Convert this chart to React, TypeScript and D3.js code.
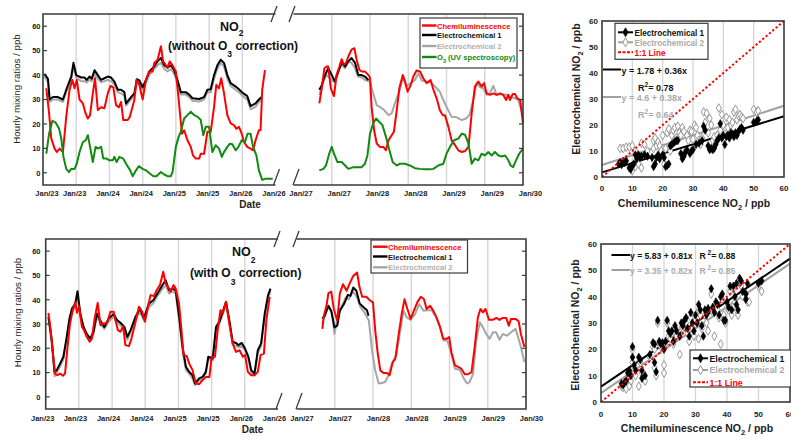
import React from "react";
import * as d3 from "d3";

type P = [number, number];

const FONT = "'Liberation Sans', Arial, Helvetica, sans-serif";

// ---------- time axis (hours from Jan 23 00:00; right block starts Jan 27 = hour 96) ----------
const leftTickHours = [0, 12, 24, 36, 48, 60, 72, 84];
const leftTickLabels = ["Jan/23", "Jan/23", "Jan/24", "Jan/24", "Jan/25", "Jan/25", "Jan/26", "Jan/26"];
const rightTickHours = [96, 108, 120, 132, 144, 156, 168];
const rightTickLabels = ["Jan/27", "Jan/27", "Jan/28", "Jan/28", "Jan/29", "Jan/29", "Jan/30"];
const yTicks = [0, 10, 20, 30, 40, 50, 60];
const scatterTicks = [0, 10, 20, 30, 40, 50, 60];

// ---------- top panel: without O3 correction ----------
const topChemiL: P[] = [[1.2,34.6],[2.2,24.3],[3,14],[4.2,9.9],[5,8.5],[6,9.9],[7.2,8.5],[8.4,23],[9.6,34],[10.6,38],[11.4,34.6],[12.2,38],[13.2,30],[14.4,28.4],[15.4,24.3],[16.2,22.2],[17,23.6],[18,32.5],[18.8,38.7],[19.8,25.7],[21,26.8],[22.2,26.4],[23.4,32.5],[24.4,35.6],[25.4,35],[26.4,27.7],[27.4,26.8],[28.2,29],[29,21.6],[30.6,21.6],[31.4,23],[33,29.8],[33.8,38],[34.8,36],[36,30],[37.2,38],[38.4,41.5],[39.6,41.5],[40.2,45],[41.4,46.3],[42.6,51.8],[43.4,45.6],[44.4,44],[45,43],[45.8,45.6],[46.8,44],[48,41.5],[48.8,32.5],[49.6,23],[50.2,16],[51,17.4],[52.2,13.3],[53.4,10.6],[54.2,7.1],[55.2,5.8],[56.4,5.8],[57,7.8],[58.2,7.8],[59.4,16.8],[60.6,16.8],[61.8,27],[62.6,36],[63.6,34.6],[64.4,38.7],[65.4,32.5],[66.6,23.6],[67.8,20.2],[69,19.5],[69.9,18],[70.8,18.8],[71.8,16],[72.6,12.6],[73.8,10.6],[75,9.9],[75.9,9.2],[76.8,13.3],[78,17.4],[78.6,17.4],[79.2,34],[80.2,42]];
const topE1L: P[] = [[0.5,40.5],[1.8,38.5],[2.4,30],[3.6,31],[5.4,31],[7.2,30],[8.4,34],[10.2,39.4],[11,45],[12,40],[13.8,39],[15,39],[15.8,38],[16.8,39.4],[17.6,38.5],[18.6,42],[19.8,40],[21,38],[22.2,38.7],[23.4,39.4],[24.6,39],[25.8,37.3],[27,34],[28.2,34],[29.4,33],[30,28.4],[31.8,31],[33,32.5],[33.9,38.3],[34.8,37.8],[36,35],[37.2,38],[38.4,41.5],[40.2,43.5],[41.4,45.6],[42.6,47],[43.8,44],[45,43],[46.2,44],[47.4,42],[48.6,38],[49.8,33],[51.6,33],[52.8,32],[54,30.5],[56.4,30.2],[58.2,31],[59.4,34],[60.6,34.2],[61.8,40],[63,44],[64.2,46.3],[65.4,45],[66.6,40],[67.8,36.7],[69.6,35.3],[70.8,34.2],[72,32.8],[73.8,31.4],[75,27.3],[76.8,28.4],[78,30],[79,31]];
const topE2L: P[] = [[0.5,39.5],[1.8,37],[2.4,29],[3.6,30],[5.4,30],[7.2,29],[8.4,33],[10.2,38],[11,43.5],[12,39],[13.8,37.5],[15,37.5],[15.8,37],[16.8,38],[17.6,37.5],[18.6,40.5],[19.8,38.5],[21,37],[22.2,37.5],[23.4,38],[24.6,37.5],[25.8,36],[27,33],[28.2,32.5],[29.4,31.5],[30,27.5],[31.8,30],[33,31.5],[33.9,37],[34.8,36.5],[36,34],[37.2,37],[38.4,40],[40.2,42.5],[41.4,44],[42.6,45],[43.8,42.5],[45,41.5],[46.2,42.5],[47.4,40.5],[48.6,36.5],[49.8,32],[51.6,32],[52.8,31],[54,29.5],[56.4,29.2],[58.2,30],[59.4,33],[60.6,33],[61.8,38.5],[63,42.5],[64.2,45],[65.4,43.5],[66.6,38.5],[67.8,35.5],[69.6,34],[70.8,33],[72,31.5],[73.8,30],[75,26],[76.8,27],[78,29],[79,30]];
const topO3L: P[] = [[1.2,7.8],[2.2,16],[3.4,21.3],[4.6,20.5],[5.8,18.1],[6.6,14],[7.4,6.5],[8.4,1.6],[9.4,0.3],[10.2,1.6],[11.4,1.6],[12.2,3.7],[13.2,8.5],[14.4,12.6],[15.4,13.3],[16.2,15.4],[17,10.6],[18,4.4],[19,10.6],[19.8,9.9],[21,10.6],[21.8,5.8],[23,5.8],[24,5.1],[25.2,5.1],[25.8,6.5],[26.6,4.4],[27.6,6.5],[29,5.8],[30,3.7],[31.5,1],[32.4,-1.4],[33.6,1],[34.6,2.7],[36,1.6],[37.2,1],[38.7,-0.4],[39.9,-1.4],[41,-1.4],[42.6,0.3],[43.8,-0.7],[45,-1.4],[46.2,-1.4],[46.8,0.3],[48,10.6],[49,14.7],[49.8,16.8],[51,22.2],[52.2,23.6],[53.4,25],[54.6,23.6],[55.8,23],[57,21.6],[57.9,15.4],[58.8,18.8],[60,18.8],[61.2,8.5],[62.4,11.3],[63.6,9.9],[64.6,6.5],[65.4,8.5],[66.6,10.6],[67.5,11.9],[68.4,11.7],[69.6,9.2],[70.6,10.6],[71.8,13.3],[73,12.6],[73.9,16],[75,16],[75.9,10.6],[77.1,7.1],[78,1],[79.2,-2.9],[80.4,-2.4],[83,-2.4]];
const topChemiR: P[] = [[104.1,28.4],[104.8,34],[105.7,42.8],[106.4,43.5],[106.9,43.5],[107.7,34.6],[108.7,31.4],[109.5,40],[110.4,43.5],[111.1,46.5],[111.8,44.2],[112.5,45],[113.2,47.6],[114.2,50.4],[115.1,51],[115.8,46.3],[116.7,42],[117.4,41.5],[118.4,41.5],[119.5,40],[120,39],[120.5,27],[121.3,17.4],[122.1,12],[123.1,10.6],[124.2,10.6],[125,9.2],[125.8,13.3],[126.8,15.4],[127.5,16.8],[128.4,25.7],[129.2,34.6],[130.3,40],[131,37.3],[131.8,33.2],[132.8,36],[133.6,39.4],[134.6,41.9],[135.7,41.5],[136.7,38.7],[137.8,36.7],[139,38],[139.9,34],[140.9,30.5],[141.9,25.7],[142.8,23.6],[143.5,23.6],[144.6,18.8],[145.6,13.3],[146.7,11.3],[147.7,9.2],[148.8,8.5],[149.8,8.9],[150.9,10.6],[151.9,24.3],[152.9,35.3],[154,37.3],[155,35.3],[155.8,36.7],[156.6,32.5],[157.6,31.9],[158.7,32.5],[159.7,31.9],[160.8,32.5],[161.8,31.9],[162.7,29.8],[163.4,31.9],[163.9,29.8],[164.8,32.3],[165.5,32.3],[166.2,30.5],[167.1,29.8],[168,20.2]];
const topE1R: P[] = [[104.1,34],[104.8,35.6],[105.7,39.4],[106.9,42.8],[108,40],[109,37.3],[110.1,41.5],[111.1,45.2],[112.2,43.5],[113.2,45.6],[114.2,47],[115.3,45],[116.3,40],[117.4,40],[118.4,39.4],[119.5,38]];
const topE2R: P[] = [[104.1,31.9],[105.4,37.3],[106.4,40],[107.5,38.7],[108.7,37.3],[110.1,42],[111.1,44.2],[112.2,42.8],[113.2,45.6],[114.2,45],[115.3,42.8],[116.3,39.4],[117.4,39],[118.4,38],[120,37.3],[121,32.5],[122.1,27.7],[123.1,27],[124.4,25.7],[125.8,23.6],[126.8,24.3],[127.8,28.4],[129.2,33.2],[130.3,38.7],[131.5,35.6],[132.8,36.7],[134.1,38],[135.2,40.8],[136.2,37.8],[137.8,37.3],[138.8,37.3],[140.4,35.3],[141.9,33.2],[143,29.8],[144,27],[145.6,22.9],[147.2,22.7],[148.8,21.6],[150.1,22.2],[151.2,23.6],[152.4,29.8],[153.5,36.9],[154.5,35],[155.5,34.6],[156.6,31.9],[157.6,32.5],[158.7,35.6],[159.7,31.9],[161.3,32.1],[162.9,31.9],[164.5,30.9],[165.5,30.5],[166.5,29.8],[168,23.6]];
const topO3R: P[] = [[104.1,1],[105.4,1.6],[106.2,3],[107.2,7.8],[108,10.6],[108.7,7.8],[109.8,4.4],[111.1,4.4],[112.2,3],[113.2,1.6],[114.8,2.3],[116.3,2.3],[117.4,2.3],[118.4,3.7],[119.2,7.1],[120,16],[121,20.2],[121.9,22.2],[122.9,20.9],[123.9,19.5],[125,14.7],[126.1,9.2],[127.1,4.4],[128.4,3],[129.4,3.7],[131,3.7],[132.5,3],[134.1,1.9],[135.7,1.6],[137.3,1.4],[138.8,1.4],[139.9,1.6],[141.4,3],[143,3.7],[144,7.8],[145.1,10.6],[146.4,13.3],[147.7,14],[148.8,16],[149.8,15.6],[150.9,11.9],[151.9,3.7],[152.9,5.8],[154,5.1],[155,7.8],[156.1,7.1],[157.1,8.5],[158.2,7.1],[159.2,8.5],[160.3,7.1],[161.3,6.7],[162.4,7.1],[163.4,5.1],[164.1,3],[164.9,2.3],[165.8,5.1],[166.8,7.8],[168,9.9]];

// ---------- bottom panel: with O3 correction ----------
const botChemiL: P[] = [[1,34.6],[1.8,27.5],[2.5,19.2],[3.4,9.6],[4.2,8.9],[5.2,9.6],[6.2,8.7],[7,9.6],[7.9,20.6],[8.8,30.2],[9.8,35.7],[10.7,39.1],[11.3,34.6],[12.1,37.3],[13.1,28.8],[13.9,27.5],[14.9,24.7],[15.9,22.7],[16.7,24],[17.7,32.3],[18.8,38.7],[19.8,29.5],[21,30.2],[22.2,30.5],[23.4,35],[24.6,35],[25.2,31.6],[26.1,27.5],[27,26.8],[28,29.1],[28.8,21.3],[30.1,20.9],[31,24],[32.5,30.9],[33.7,37.1],[34.9,35],[35.9,30.9],[37.1,37.8],[37.9,41.9],[39.2,41.5],[40.1,43.9],[41.3,46],[42.5,51.5],[43.4,46.7],[44.2,45.3],[45.2,43.3],[46.2,46],[47,44.6],[48.2,38.4],[49.1,27.5],[49.8,17.2],[51,16.8],[51.9,13.7],[53.1,11],[54.3,5.5],[55.5,5.2],[56.7,6.9],[57.9,8.2],[59.2,8.2],[60,16.5],[61.2,16.5],[62.2,27.5],[63.2,35.7],[64,34.3],[65.2,39.1],[66.4,30.2],[67.6,22],[68.8,18.5],[70.1,19.2],[71.3,16.5],[72.1,17.2],[73.1,10.3],[74.3,8.9],[75.5,8.9],[76.7,10.3],[77.7,17.2],[78.9,17.8],[79.8,31.6],[81,41.2]];
const botE1L: P[] = [[1,33],[2.2,23.3],[3.2,10.3],[4,11],[5.2,13.7],[6.4,16.5],[7.6,24.7],[8.6,32.3],[9.5,36.4],[10.7,38.4],[11.5,43.5],[12.5,34.3],[13.7,28.8],[14.9,25.8],[16.1,24],[17.3,26.8],[18.5,34.3],[19.8,31.3],[21.2,28.8],[22.8,32.3],[24.6,34.1],[25.8,31.6],[27,30.5],[28.5,28.8],[29.5,24.7],[30.7,27.5],[32.5,33],[34.1,36.4],[35.5,32.3],[37.3,38.4],[38.9,39.8],[40.4,42.6],[42.2,46],[43.4,48],[44.6,43.9],[45.8,44.6],[47,43.9],[48.2,33.6],[49.5,20.6],[50.7,12.4],[51.9,10.3],[53.1,8.9],[54,5.5],[55.5,7.6],[56.7,8.2],[57.9,10.3],[58.8,16.5],[60.4,15.8],[61.6,28.8],[62.8,30.9],[64.4,36.4],[65.2,39.1],[66.4,31.6],[67.6,22.7],[68.8,22.2],[69.7,21.3],[70.9,22.2],[72.1,19.9],[73.3,16.5],[74.3,11],[75.5,9.6],[76.7,19.2],[77.9,22],[79.2,34.3],[80.4,41.9],[81.3,44.6]];
const botE2L: P[] = [[1,32],[2.2,22],[3.2,8.5],[4,10],[5.2,12.5],[6.4,15.5],[7.6,23.5],[8.6,31],[9.5,35],[10.7,37],[11.5,41.5],[12.5,33],[13.7,27.5],[14.9,24.5],[16.1,23],[17.3,26],[18.5,33],[19.8,30],[21.2,28],[22.8,31],[24.6,33],[25.8,30.5],[27,29.5],[28.5,27.5],[29.5,23.5],[30.7,26.5],[32.5,32],[34.1,35],[35.5,31.5],[37.3,37],[38.9,38.5],[40.4,41.5],[42.2,44.5],[43.4,46],[44.6,42.5],[45.8,43.5],[47,42.5],[48.2,32],[49.5,19],[50.7,11],[51.9,9.5],[53.1,7.5],[54,4.8],[55.5,6.8],[56.7,7.5],[57.9,9.5],[58.8,15.5],[60.4,15],[61.6,28],[62.8,30],[64.4,35.5],[65.2,38.5],[66.4,30.5],[67.6,21.5],[68.8,21],[69.7,20.5],[70.9,21],[72.1,19],[73.3,15.5],[74.3,10],[75.5,8.8],[76.7,18],[77.9,21],[79.2,33],[80.4,40.5],[81.3,43.5]];
const botChemiR: P[] = [[104.1,28],[104.6,33.4],[105.4,37.5],[106,42.6],[106.9,43.4],[107.7,36.2],[108.8,31.4],[109.6,42.6],[110.6,46.4],[111.7,43.7],[112.7,46.7],[113.8,49.8],[115,51.2],[115.8,45],[116.6,41.2],[117.9,41.2],[119,39.8],[120,38.9],[120.7,27.3],[121.5,17.7],[122.3,10.9],[123.3,9.8],[124.4,9.8],[125.2,8.9],[126.2,14.3],[127,15.7],[128,25.2],[129,34.1],[129.9,40.2],[130.8,36.2],[131.8,32.1],[132.9,35.7],[133.9,38.9],[135,41.2],[136,40.2],[136.8,36.2],[137.9,37.5],[138.9,35.5],[139.9,32.7],[141,28.9],[142,23.9],[143.1,23.9],[143.9,24.6],[144.6,18.4],[145.7,13],[146.7,12.3],[147.7,11.6],[148.8,9.3],[149.8,9.3],[150.9,10.2],[151.9,20.5],[152.9,32.7],[153.7,36.2],[154.5,34.8],[155.3,36.2],[156.4,31.7],[157.6,31.7],[158.7,32.5],[159.7,31.7],[160.7,32.5],[161.8,32.5],[162.6,29.3],[163.3,32.1],[164.7,32.1],[165.7,31.1],[166.4,25.9],[167.5,20.5]];
const botE1R: P[] = [[104.1,32.3],[104.9,33.4],[106,37.5],[106.9,35.5],[107.9,28.6],[108.8,29.3],[109.6,35.5],[110.9,38.2],[112.1,42],[112.9,41.6],[113.8,45],[114.8,43.7],[115.8,38.5],[117.1,36.8],[118.1,35.7],[118.6,33.4]];
const botE2R: P[] = [[104.1,30],[105.1,35.2],[106.2,36.8],[107.2,34.1],[107.9,25.9],[109,33.4],[110,36.6],[111.4,40.9],[112.4,40.2],[113.8,43.4],[115,40.9],[116.1,36.8],[117.3,34.8],[118.7,31.4],[119.7,19.1],[120.7,10.9],[121.8,5.5],[122.8,5.7],[123.8,6.1],[124.9,8.9],[125.9,13.6],[127.3,17.1],[128.3,25.2],[129.6,35.5],[130.6,32.7],[131.8,31.7],[133.2,34.1],[134.5,38.2],[135.8,35.5],[137,35.7],[138.4,35.7],[139.9,32.7],[141.2,28],[142.2,23.2],[143.3,23.2],[144.6,17.7],[145.7,11.6],[147.2,11.2],[148.5,7.5],[149.5,5.5],[150.3,6.1],[151.4,9.5],[152.4,23.2],[153.5,30.7],[154.5,28.6],[155.5,25.9],[156.6,23.9],[157.6,26.6],[158.6,26.6],[159.7,23.5],[160.7,25.9],[162,25.2],[163.3,26.6],[164.7,28],[165.4,25.2],[166.4,20.5],[167.5,14.3]];

// ---------- scatter data (chemiluminescence NO2, electrochemical NO2) ----------
const scatTopE1: P[] = [[5.5,5],[6,5.5],[6.5,4.8],[7,6],[7.5,5.5],[8,6.2],[9,3.5],[9.5,3],[10,4.5],[10.5,5],[11,8.5],[11.5,7],[12,8.5],[12.5,7.5],[13,8],[14,8.5],[15,8],[16.5,7.5],[17,4],[17.5,5],[18,7.5],[18.5,8.5],[19,7],[20,8.5],[20.5,7.5],[21,4],[21.5,4.5],[22,5],[22.5,12],[23,12.5],[23.5,13],[24,13.5],[24.5,14],[25,14],[26,9],[26.5,7],[27,8],[27.5,9.5],[28,10.5],[29,9],[29.5,10],[30,10.5],[31,12.5],[32,13],[33,14],[33.5,19.5],[34,18],[35,12],[35.5,10.5],[36,11],[36.5,10.5],[37,11],[37.5,12.5],[38,14],[38.5,15],[39,20.5],[39.5,15],[40,16],[40.5,12.5],[41,15.5],[41.5,16],[42,15],[42.5,17],[43,16.5],[43.5,15.5],[44,17],[44.5,16],[45,17.5],[45.5,18.5],[46,19],[46.5,18],[50,21],[51,21.5],[51.5,22]];
const scatTopE2: P[] = [[6,11],[7,11],[8,11.5],[9,11.5],[9.5,3],[10,2.5],[10,12],[11,10],[11,4],[12,5],[12.5,8],[13,3.5],[13,13],[14,12.5],[15,10],[17,11],[17,14],[17.5,15],[18,12],[18.5,13.5],[19,12],[19.5,10],[20,16],[20.5,5],[21,11],[21.5,17],[22,18.5],[22.5,10],[23,16],[23.5,18],[24,19],[24.5,15],[25,19.5],[25.5,17],[26,16],[26.5,19],[27,17.5],[27,9],[28,16],[28.5,14],[29,18],[29.5,17.5],[30,14.5],[30.5,20],[31,19],[31.5,16],[32,14],[32.5,12.5],[33,15],[33.5,25],[34,21],[34.5,24.5],[35,17],[35.5,22.5],[36,20],[36.5,14],[37,15.5],[37.5,13],[38,16],[38.5,26.5],[39,18],[39.5,24],[40,20],[40.5,16.5],[41,23],[41.5,19],[42,22],[42.5,20],[43,21],[43.5,25],[44,26],[44.5,22],[45,23.5],[45.5,24],[46,23],[46.5,22.5],[50,26],[51,25],[51.5,25.5]];
const scatBotE1: P[] = [[6.5,7],[7,6.5],[7.5,7.5],[8,8],[8.5,11],[9,12],[9.5,10],[10,21],[10,17],[10.5,14],[11,12],[12,17],[12.5,16],[13,12],[13,9],[14,10],[15.5,18],[16.5,22.5],[17,22],[17,15],[17.5,11.5],[18,31],[18.5,23],[19,22],[19.5,22.5],[20,20],[20.5,23],[21,31],[21.5,27],[22,26],[22.5,27],[23,23],[23.5,29],[24,27],[25,25],[25.5,30],[26,29],[26.5,31],[27,32],[27.5,28],[28,25],[28.5,34],[29,30],[29.5,27],[30,33],[30.5,30],[31,37],[31.5,35],[32,29],[32.5,25],[33,35],[33.5,33],[34,35.5],[35,43],[35.5,36],[36,34],[36.5,38],[37,37],[37.5,33],[38,40],[38.5,41],[39,31],[39.5,31],[40,38],[40.5,36],[41,44],[41.5,35],[42,44],[42.5,40],[43,37],[43,45],[43.5,35],[44,47],[44.5,46],[45,42],[46,41],[46,39],[46.5,45],[50,45],[51,46]];
const scatBotE2: P[] = [[6.5,6],[7,5.5],[7.5,6],[8,5],[9,6],[9.5,8],[10,20],[10,15],[10.5,12],[11,10],[12,6],[12.5,15],[13,11],[13.5,9],[14,8],[15.5,17],[16.5,21],[17,20],[17,13],[17.5,10],[18,30],[18.5,22],[19,21],[20,14],[20,11],[20.5,22],[21,30],[21.5,25],[22,24],[22.5,26],[23,22],[23.5,28],[24,25],[25,18],[25.5,28],[26,28],[26.5,30],[27,30],[27.5,26],[28,23],[28.5,32],[29,28],[29.5,25],[30,31],[31,24],[31,35],[31.5,33],[32,28],[33,33],[33.5,30],[34,27],[35,41],[35.5,34],[36,25],[36.5,36],[37,35],[37.5,32],[38,22],[38.5,39],[39,33],[39.5,30],[40,36],[40.5,35],[41,42],[41.5,33],[42,43],[42.5,38],[43,35],[43.5,33],[44,45],[44.5,44],[45,40],[46,39],[46.5,38],[47,38],[50,44],[51,42]];

// regression [intercept, slope]
const topFit1 = [1.78, 0.36];
const topFit2 = [4.6, 0.38];
const botFit1 = [5.83, 0.81];
const botFit2 = [3.35, 0.82];

const RED = "#ff0000";
const BLACK = "#000000";
const GRAY = "#a6a6a6";
const GREEN = "#108a10";
const FRAME = "#3a3a3a";
const GRID = "#d6d6d6";

interface TSeries { left?: P[]; right?: P[]; color: string }

function TimePanel(props: {
  top: number; bottom: number; xL0: number; xL1: number; xR0: number; xR1: number;
  series: TSeries[]; leftShift: number; firstShift: number; rightShift: number;
  tickBase: number; dateX: number; dateY: number; yLabX: number; yLabY: number;
  slashL: number; slashR: number; slashBL: number; slashBR: number;
}) {
  const { top, bottom, xL0, xL1, xR0, xR1 } = props;
  const y = d3.scaleLinear().domain([-5, 65]).range([bottom, top]);
  const xl = d3.scaleLinear().domain([0, 84]).range([xL0, xL1]);
  const xr = d3.scaleLinear().domain([96, 168]).range([xR0, xR1]);
  const lineL = d3.line<P>().x((d) => xl(d[0])).y((d) => y(d[1]));
  const lineR = d3.line<P>().x((d) => xr(d[0])).y((d) => y(d[1]));
  const slash = (x: number, yc: number, k: string) => (
    <line key={k} x1={x - 3} y1={yc + 8} x2={x + 3} y2={yc - 8} stroke={FRAME} strokeWidth={1.3} />
  );
  return (
    <g fontFamily={FONT}>
      {leftTickHours.slice(1, -1).map((h) => (
        <line key={"gl" + h} x1={xl(h)} x2={xl(h)} y1={top} y2={bottom} stroke={GRID} strokeWidth={1.4} />
      ))}
      {rightTickHours.slice(1, -1).map((h) => (
        <line key={"gr" + h} x1={xr(h)} x2={xr(h)} y1={top} y2={bottom} stroke={GRID} strokeWidth={1.4} />
      ))}
      {props.series.map((s, i) => (
        <g key={"s" + i} fill="none" stroke={s.color} strokeWidth={2} strokeLinejoin="round">
          {s.left && <path d={lineL(s.left) || ""} />}
          {s.right && <path d={lineR(s.right) || ""} />}
        </g>
      ))}
      <path d={`M${xL1},${top}H${xL0}V${bottom}H${xL1}`} fill="none" stroke={FRAME} strokeWidth={1.6} />
      <path d={`M${xR0},${top}H${xR1}V${bottom}H${xR0}`} fill="none" stroke={FRAME} strokeWidth={1.6} />
      {slash(props.slashL, top, "s1")}
      {slash(props.slashR, top, "s2")}
      {slash(props.slashBL, bottom - 8, "s3")}
      {slash(props.slashBR, bottom - 8, "s4")}
      {yTicks.map((v) => (
        <g key={"yt" + v}>
          <line x1={xL0} x2={xL0 + 4} y1={y(v)} y2={y(v)} stroke={FRAME} strokeWidth={1.2} />
          <line x1={xR1} x2={xR1 - 4} y1={y(v)} y2={y(v)} stroke={FRAME} strokeWidth={1.2} />
          <text x={40.5} y={y(v) + 2.8} fontSize={7.5} fontWeight="bold" textAnchor="end" fill="#222">{v}</text>
        </g>
      ))}
      {leftTickHours.map((h, i) => (
        <text key={"lt" + i} x={xl(h) + (i === 0 ? props.firstShift : props.leftShift)} y={props.tickBase}
          fontSize={7.5} fontWeight="bold" textAnchor="middle" fill="#222">{leftTickLabels[i]}</text>
      ))}
      {rightTickHours.map((h, i) => (
        <text key={"rt" + i} x={xr(h) + props.rightShift} y={props.tickBase}
          fontSize={7.5} fontWeight="bold" textAnchor="middle" fill="#222">{rightTickLabels[i]}</text>
      ))}
      <text x={props.dateX} y={props.dateY} fontSize={10} fontWeight="bold" textAnchor="middle" fill="#222">Date</text>
      <text transform={`translate(${props.yLabX},${props.yLabY}) rotate(-90)`} fontSize={9.7}
        textAnchor="middle" fill="#222">Hourly mixing ratios / ppb</text>
    </g>
  );
}

function Diamond({ x, y, filled, size }: { x: number; y: number; filled: boolean; size: number }) {
  const d = d3.symbol(d3.symbolDiamond, size)() || "";
  return filled ? (
    <path d={d} transform={`translate(${x},${y})`} fill={BLACK} stroke={BLACK} strokeWidth={0.6} />
  ) : (
    <path d={d} transform={`translate(${x},${y})`} fill="#ffffff" stroke="#8c8c8c" strokeWidth={0.9} />
  );
}

function Scatter(props: {
  x0: number; x1: number; yb: number; yt: number; e1: P[]; e2: P[];
  fit1: number[]; fit2: number[]; tickBase: number; yTickRight: number;
  xTitleX: number; xTitleY: number; yTitleX: number; yTitleY: number;
}) {
  const x = d3.scaleLinear().domain([0, 60]).range([props.x0, props.x1]);
  const y = d3.scaleLinear().domain([0, 60]).range([props.yb, props.yt]);
  const fitLine = (f: number[]) => d3.line<number>().x((v) => x(v)).y((v) => y(f[0] + f[1] * v))([0, 60]) || "";
  return (
    <g fontFamily={FONT}>
      {scatterTicks.slice(1, -1).map((v) => (
        <line key={"g" + v} x1={x(v)} x2={x(v)} y1={props.yt} y2={props.yb} stroke={GRID} strokeWidth={1.3} />
      ))}
      <path d={fitLine(props.fit2)} stroke="#a0a0a0" strokeWidth={2} fill="none" />
      <path d={fitLine(props.fit1)} stroke={BLACK} strokeWidth={2} fill="none" />
      {props.e2.map((p, i) => <Diamond key={"b" + i} x={x(p[0])} y={y(p[1])} filled={false} size={22} />)}
      {props.e1.map((p, i) => <Diamond key={"a" + i} x={x(p[0])} y={y(p[1])} filled={true} size={20} />)}
      <path d={d3.line<number>().x((v) => x(v)).y((v) => y(v))([0, 60]) || ""} stroke={RED} strokeWidth={2}
        strokeDasharray="2.2 2.2" fill="none" />
      <rect x={props.x0} y={props.yt} width={props.x1 - props.x0} height={props.yb - props.yt}
        fill="none" stroke={FRAME} strokeWidth={1.6} />
      {scatterTicks.map((v) => (
        <g key={"t" + v}>
          <text x={x(v)} y={props.tickBase} fontSize={8} fontWeight="bold" textAnchor="middle" fill="#222">{v}</text>
          <text x={props.yTickRight} y={y(v) + 3} fontSize={8} fontWeight="bold" textAnchor="end" fill="#222">{v}</text>
        </g>
      ))}
      <text x={props.xTitleX} y={props.xTitleY} fontSize={10.5} fontWeight="bold" textAnchor="middle" fill="#222">
        Chemiluminescence NO<tspan dy={3} fontSize={7.5}>2</tspan><tspan dy={-3}>  / ppb</tspan>
      </text>
      <text transform={`translate(${props.yTitleX},${props.yTitleY}) rotate(-90)`} fontSize={10.5}
        fontWeight="bold" textAnchor="middle" fill="#222">
        Electrochemical NO<tspan dy={3} fontSize={7.5}>2</tspan><tspan dy={-3}>  / ppb</tspan>
      </text>
    </g>
  );
}

function ScatterLegend({ x, y, w, h, rows, fs }: { x: number; y: number; w: number; h: number; rows: number[]; fs: number }) {
  const items = [
    { label: "Electrochemical 1", color: BLACK, text: "#111", marker: "filled" },
    { label: "Electrochemical 2", color: "#a0a0a0", text: "#aaaaaa", marker: "open" },
    { label: "1:1 Line", color: RED, text: RED, marker: "none" },
  ];
  return (
    <g fontFamily={FONT}>
      <rect x={x} y={y} width={w} height={h} fill="#fff" stroke={FRAME} strokeWidth={1.2} />
      {items.map((it, i) => (
        <g key={i}>
          <line x1={x + 3} x2={x + 18} y1={rows[i]} y2={rows[i]} stroke={it.color} strokeWidth={2}
            strokeDasharray={it.marker === "none" ? "3 1.5" : undefined} />
          {it.marker !== "none" && <Diamond x={x + 10.5} y={rows[i]} filled={it.marker === "filled"} size={24} />}
          <text x={x + 19.5} y={rows[i] + 3.3} fontSize={fs} fontWeight="bold" fill={it.text}>{it.label}</text>
        </g>
      ))}
    </g>
  );
}

export default function App() {
  const topSeries: TSeries[] = [
    { left: topE2L, right: topE2R, color: GRAY },
    { left: topE1L, right: topE1R, color: BLACK },
    { left: topChemiL, right: topChemiR, color: RED },
    { left: topO3L, right: topO3R, color: GREEN },
  ];
  const botSeries: TSeries[] = [
    { left: botE2L, right: botE2R, color: GRAY },
    { left: botE1L, right: botE1R, color: BLACK },
    { left: botChemiL, right: botChemiR, color: RED },
  ];
  const topLegend = [
    { label: "Chemiluminescence", color: RED, text: RED },
    { label: "Electrochemical 1", color: BLACK, text: "#111" },
    { label: "Electrochemical 2", color: GRAY, text: "#b0b0b0" },
  ];
  return (
    <svg width={791} height={439} style={{ position: "absolute", left: 0, top: 0, background: "#fff" }}>
      <rect x={0} y={0} width={791} height={439} fill="#fff" />
      <TimePanel top={14} bottom={185} xL0={43} xL1={275.5} xR0={293.5} xR1={523} series={topSeries}
        leftShift={-1.5} firstShift={4} rightShift={7.5} tickBase={196} dateX={250} dateY={207.5}
        yLabX={20} yLabY={89} slashL={274} slashR={292} slashBL={276.5} slashBR={296} />
      <TimePanel top={239} bottom={409} xL0={45.7} xL1={278} xR0={296.5} xR1={526} series={botSeries}
        leftShift={-3.5} firstShift={-3} rightShift={5.5} tickBase={420.5} dateX={252.5} dateY={433}
        yLabX={21} yLabY={312.5} slashL={277} slashR={296} slashBL={279} slashBR={299} />

      {/* titles */}
      <g fontFamily={FONT} fontWeight="bold" fill="#111">
        <text x={220} y={30.5} fontSize={12.5}>NO<tspan dy={5} fontSize={8.5}>2</tspan></text>
        <text x={168} y={49.5} fontSize={12}>(without O<tspan dy={7} fontSize={8.5}>3</tspan><tspan dy={-7}> correction)</tspan></text>
        <text x={232} y={256} fontSize={12.5}>NO<tspan dy={7} fontSize={8.5}>2</tspan></text>
        <text x={190} y={276.5} fontSize={12}>(with O<tspan dy={8} fontSize={8.5}>3</tspan><tspan dy={-8}> correction)</tspan></text>
      </g>

      {/* top time-series legend */}
      <g fontFamily={FONT} fontWeight="bold">
        <rect x={420} y={18} width={97} height={50} fill="#fff" stroke={FRAME} strokeWidth={1.2} />
        {topLegend.map((it, i) => (
          <g key={i}>
            <line x1={422} x2={436.5} y1={[25.5, 35, 46][i]} y2={[25.5, 35, 46][i]} stroke={it.color} strokeWidth={2.4} />
            <text x={437} y={[28.5, 38.3, 49.3][i]} fontSize={7.6} fill={it.text}>{it.label}</text>
          </g>
        ))}
        <line x1={422} x2={436.5} y1={57} y2={57} stroke={GREEN} strokeWidth={2.4} />
        <text x={437} y={60} fontSize={7.6} fill={GREEN}>O<tspan dy={3} fontSize={5.5}>3</tspan><tspan dy={-3}> (UV spectroscopy)</tspan></text>
      </g>

      {/* bottom time-series legend */}
      <g fontFamily={FONT} fontWeight="bold">
        <rect x={371} y={240} width={96.5} height={33} fill="#fff" stroke={FRAME} strokeWidth={1.2} />
        {topLegend.map((it, i) => (
          <g key={i}>
            <line x1={373} x2={387.5} y1={[246.7, 256.5, 267.3][i]} y2={[246.7, 256.5, 267.3][i]} stroke={it.color} strokeWidth={2.4} />
            <text x={388} y={[249.7, 259.5, 270.3][i]} fontSize={7.6} fill={it.text}>{it.label}</text>
          </g>
        ))}
      </g>

      {/* scatter plots */}
      <Scatter x0={602} x1={784} yb={177} yt={21} e1={scatTopE1} e2={scatTopE2} fit1={topFit1} fit2={topFit2}
        tickBase={191} yTickRight={598} xTitleX={694} xTitleY={207} yTitleX={579.5} yTitleY={89} />
      <Scatter x0={601} x1={790} yb={402} yt={244} e1={scatBotE1} e2={scatBotE2} fit1={botFit1} fit2={botFit2}
        tickBase={417} yTickRight={597} xTitleX={697} xTitleY={432} yTitleX={579} yTitleY={325} />

      <ScatterLegend x={615} y={23.3} w={93} h={36} rows={[32.3, 42.3, 52.3]} fs={8.2} />
      <ScatterLegend x={690} y={350} w={101} h={37} rows={[358.3, 370, 382.3]} fs={8.8} />

      {/* regression annotations */}
      <g fontFamily={FONT} fontWeight="bold">
        <line x1={603} x2={621} y1={69.5} y2={69.5} stroke={BLACK} strokeWidth={2} />
        <text x={621.5} y={73.5} fontSize={9} fill="#111">y = {topFit1[0]} + {topFit1[1]}x</text>
        <text x={638} y={90.5} fontSize={9} fill="#111">R<tspan dy={-4} fontSize={6.5}>2</tspan><tspan dy={4}>= 0.78</tspan></text>
        <line x1={603} x2={621} y1={97} y2={97} stroke="#a0a0a0" strokeWidth={2} />
        <text x={621.5} y={100.5} fontSize={9} fill="#aaaaaa">y = {topFit2[0]} + {topFit2[1]}x</text>
        <text x={638} y={118} fontSize={9} fill="#aaaaaa">R<tspan dy={-4} fontSize={6.5}>2</tspan><tspan dy={4}>= 0.64</tspan></text>

        <line x1={611.5} x2={630} y1={255} y2={255} stroke={BLACK} strokeWidth={2} />
        <text x={630} y={259} fontSize={8.6} fill="#111">y = {botFit1[0]} + {botFit1[1]}x</text>
        <text x={699.5} y={259} fontSize={8.6} fill="#111">R<tspan dy={-4} fontSize={6.5}> 2</tspan><tspan dy={4}>= 0.88</tspan></text>
        <line x1={611.5} x2={630} y1={270} y2={270} stroke="#a0a0a0" strokeWidth={2} />
        <text x={630} y={274} fontSize={8.6} fill="#aaaaaa">y = {botFit2[0]} + {botFit2[1]}x</text>
        <text x={699.5} y={274} fontSize={8.6} fill="#aaaaaa">R<tspan dy={-4} fontSize={6.5}> 2</tspan><tspan dy={4}>= 0.85</tspan></text>
      </g>
    </svg>
  );
}
